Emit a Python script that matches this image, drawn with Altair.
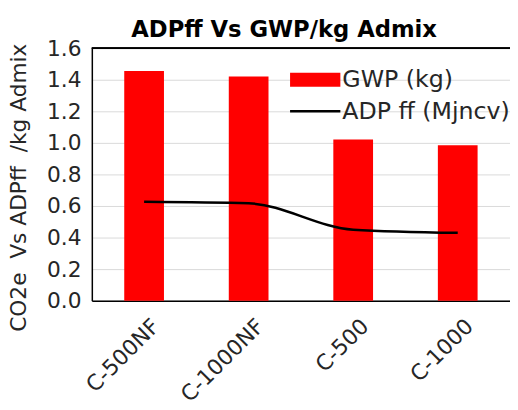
import altair as alt
import pandas as pd

categories = ["C-500NF", "C-1000NF", "C-500", "C-1000"]
gwp_values = [1.455, 1.42, 1.022, 0.985]
adp_values = [0.627, 0.617, 0.45, 0.43]
series_names = ["GWP (kg)", "ADP ff (Mjncv)"]
y_ticks = [0.0, 0.2, 0.4, 0.6, 0.8, 1.0, 1.2, 1.4, 1.6]
chart_title = "ADPff Vs GWP/kg Admix"
y_title = "CO2e\u00a0\u00a0Vs ADPff\u00a0\u00a0/kg Admix"

df = pd.DataFrame({"category": categories, "gwp": gwp_values, "adp": adp_values})

FONT = "DejaVu Sans"
LABEL_COLOR = "#262626"
W, H = 424, 256

x_enc = alt.X(
    "category:N",
    sort=categories,
    scale=alt.Scale(paddingInner=0.62, paddingOuter=0.31),
    axis=alt.Axis(
        title=None, labelAngle=-45, labelAlign="right", labelBaseline="middle",
        labelFontSize=22, labelFont=FONT, labelColor=LABEL_COLOR,
        ticks=False, tickSize=0, labelPadding=22, labelOffset=12,
        domainColor="black", domainWidth=1.5, grid=False,
    ),
)

y_axis = alt.Axis(
    values=y_ticks, format=".1f", title=y_title,
    labelFontSize=22, labelFont=FONT, labelColor=LABEL_COLOR,
    ticks=False, tickSize=0, labelPadding=11,
    domainColor="black", domainWidth=1.5,
    gridColor="#d9d9d9", gridWidth=1,
    titleFont=FONT, titleFontSize=22, titleFontWeight="normal", titleColor=LABEL_COLOR,
    titleAngle=270, titleX=-74, titleY=141, titleAlign="center", titleBaseline="middle",
)
y_scale = alt.Scale(domain=[0, 1.6], nice=False)

bars = alt.Chart(df).mark_bar(color="#ff0000").encode(
    x=x_enc, y=alt.Y("gwp:Q", scale=y_scale, axis=y_axis)
)
line = alt.Chart(df).mark_line(color="black", strokeWidth=2.5, interpolate="monotone").encode(
    x=x_enc, y=alt.Y("adp:Q", scale=y_scale, axis=y_axis)
)

top_border = alt.Chart(df).mark_rule(color="black", strokeWidth=1.5).encode(
    x=alt.value(0), x2=alt.value(W), y=alt.value(0)
)

title_df = pd.DataFrame({"t": [chart_title]})
title_mark = alt.Chart(title_df).mark_text(
    align="center", baseline="alphabetic", fontSize=23, font=FONT, fontWeight="bold", color="black"
).encode(x=alt.value(195), y=alt.value(-11), text="t:N")

leg1 = pd.DataFrame({"label": [series_names[0]]})
leg2 = pd.DataFrame({"label": [series_names[1]]})
leg_rect = alt.Chart(leg1).mark_rect(color="#ff0000").encode(
    x=alt.value(201), x2=alt.value(252), y=alt.value(25), y2=alt.value(39)
)
leg_text1 = alt.Chart(leg1).mark_text(
    align="left", baseline="alphabetic", fontSize=24, font=FONT, color=LABEL_COLOR
).encode(x=alt.value(254), y=alt.value(39), text="label:N")
leg_rule = alt.Chart(leg2).mark_rule(color="black", strokeWidth=2.5).encode(
    x=alt.value(201), x2=alt.value(252), y=alt.value(64)
)
leg_text2 = alt.Chart(leg2).mark_text(
    align="left", baseline="alphabetic", fontSize=24, font=FONT, color=LABEL_COLOR
).encode(x=alt.value(254), y=alt.value(72), text="label:N")

chart = alt.layer(
    bars, line, top_border, title_mark, leg_rect, leg_text1, leg_rule, leg_text2
).properties(
    width=W, height=H,
    autosize=alt.AutoSizeParams(type="none"),
    padding={"left": 85, "top": 38, "right": 0, "bottom": 100},
).configure_view(stroke=None).configure(background="white")

chart.save("out.html", embed_options={"renderer": "svg", "actions": False})
